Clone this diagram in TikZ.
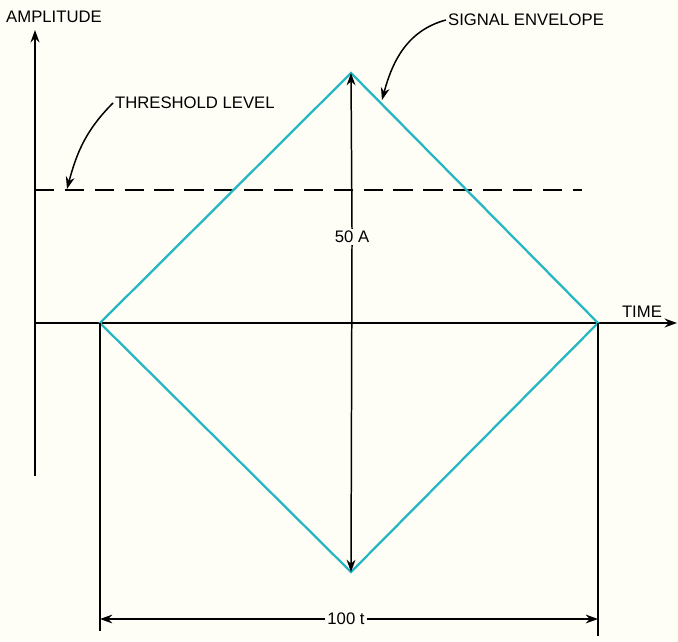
\documentclass[tikz,border=0pt]{standalone}
\usepackage{fontspec}
\setmainfont{Liberation Sans}
\usepackage{tikz}
\usetikzlibrary{arrows.meta,positioning,calc}

\definecolor{envcyan}{RGB}{38,182,196}
\definecolor{paper}{RGB}{254,254,246}

\begin{document}
\begin{tikzpicture}[x=0.02cm, y=-0.02cm, >={Stealth[length=7pt,width=5pt]},
    lbl/.style={inner sep=1pt, font=\fontsize{9.5}{11}\selectfont},
    axis/.style={line width=1.7pt},
    thin/.style={line width=0.85pt}]
        % Background and frame size
        \fill[paper] (0,0) rectangle (678,641);
        \useasboundingbox (0,0) rectangle (678,641);

        % Corners of the envelope
        \coordinate (left) at (100,323);
        \coordinate (top) at (351,73);
        \coordinate (right) at (598,323);
        \coordinate (bottom) at (351,572);

        % Draw axes
        \coordinate (origin) at (35,323);
        \coordinate (ytop) at (35,30);
        \coordinate (ybot) at (35,476);
        \coordinate (xend) at (677,323);
        \draw[axis, ->] (ybot) -- (ytop);
        \draw[axis, ->] (origin) -- (xend);
        \node[lbl] (amp) at (54,17) {AMPLITUDE};
        \node[lbl, anchor=east] (time) at (664,312) {TIME};

        % Draw threshold
        \coordinate (thrstart) at (35,190);
        \coordinate (thrend) at (582,190);
        \draw[thin, dashed, dash pattern=on 11pt off 6pt] (thrstart) -- (thrend);
        \node[lbl, anchor=west] (thr) at (113,103) {THRESHOLD LEVEL};
        \coordinate (thrtip) at (67,189);
        \draw[thin, ->] (thr.west) to[out=-135, in=75] (thrtip);

        % Draw signal envelope
        \draw[envcyan, line width=1.3pt, line join=miter] (left) -- (top) -- (right) -- (bottom) -- cycle;
        \node[lbl, anchor=west] (env) at (446,20) {SIGNAL ENVELOPE};
        \coordinate (envtip) at (382,100);
        \draw[thin, ->] (env.west) to[out=-165, in=75] (envtip);

        % Peak amplitude
        \node[lbl, fill=paper] (peak) at (352,237) {50 A};
        \draw[thin, ->] (peak.north) -- (top);
        \draw[thin, ->] (peak.south) -- (bottom);

        % Duration
        \coordinate (ltick) at (100,631);
        \coordinate (rtick) at (598,636);
        \draw[thin] (left) -- (ltick);
        \draw[thin] (right) -- (rtick);
        \node[lbl, fill=paper] (dur) at (346,619) {100 t};
        \draw[thin, ->] (dur.west) -- (dur.west -| left);
        \draw[thin, ->] (dur.east) -- (dur.east -| right);
    \end{tikzpicture}
\end{document}
